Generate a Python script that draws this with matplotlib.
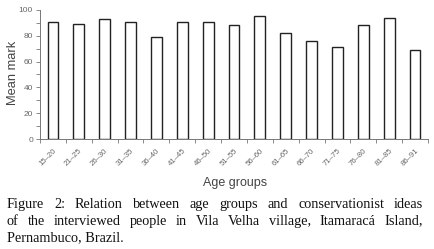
import matplotlib
matplotlib.use('Agg')
import matplotlib.pyplot as plt
import numpy as np

# Data
age_groups = ['15–20', '21–25', '26–30', '31–35', '36–40', '41–45', '46–50', '51–55',
              '56–60', '61–65', '66–70', '71–75', '76–80', '81–85', '86–91']
mean_mark = [91, 89, 93, 91, 79, 91, 91, 88, 95, 82, 76, 71, 88, 94, 69]

caption_lines = [
    'Figure 2: Relation between age groups and conservationist ideas',
    'of the interviewed people in Vila Velha village, Itamaracá Island,',
    'Pernambuco, Brazil.',
]

W, H = 435, 249
fig = plt.figure(figsize=(W / 100, H / 100), dpi=100)
ax = fig.add_axes([40 / W, 1 - 139 / H, 388 / W, 129 / H])

x = np.arange(len(age_groups))
ax.bar(x, mean_mark, width=0.42, facecolor='white', edgecolor='#222222', linewidth=1.0)

ax.set_xlim(-0.5, len(age_groups) - 0.5)
ax.set_ylim(0, 100)
ax.set_yticks(np.arange(0, 101, 20))
ax.set_yticks(np.arange(0, 101, 10), minor=True)
ax.set_xticks(np.arange(-0.5, len(age_groups), 1.0), minor=True)
ax.set_xticks(x)
ax.set_xticklabels(age_groups, rotation=45, ha='right', rotation_mode='anchor')
ax.tick_params(axis='x', which='major', length=0, pad=6, labelsize=5.6, labelcolor='#666666')
ax.tick_params(axis='x', which='minor', length=3, color='#777777', width=0.6)
ax.tick_params(axis='y', which='both', length=3, color='#777777', width=0.6,
               labelsize=6, labelcolor='#666666', pad=2)
for t in ax.get_xticklabels() + ax.get_yticklabels():
    t.set_family('Liberation Sans')

for s in ['top', 'right']:
    ax.spines[s].set_visible(False)
for s in ['left', 'bottom']:
    ax.spines[s].set_color('#777777')
    ax.spines[s].set_linewidth(0.7)

fig.text(13 / W, 1 - 73 / H, 'Mean mark', rotation=90, ha='center', va='center',
         family='Liberation Sans', fontsize=9.3, color='#444444')
fig.text(235 / W, 1 - 183 / H, 'Age groups', ha='center', va='center',
         family='Liberation Sans', fontsize=9, color='#444444')

# Justified caption
left_px, right_px = 7, 423
baselines = [208, 224.5, 241]
cap_kw = dict(family='Liberation Serif', fontsize=10.3, color='#111111', va='baseline')
renderer = fig.canvas.get_renderer()
for i, (line, yb) in enumerate(zip(caption_lines, baselines)):
    y = 1 - yb / H
    words = line.split(' ')
    if i == len(caption_lines) - 1:
        fig.text(left_px / W, y, line, ha='left', **cap_kw)
        continue
    arts = [fig.text(0, y, w_, ha='left', **cap_kw) for w_ in words]
    widths = [a.get_window_extent(renderer).width for a in arts]
    gap = (right_px - left_px - sum(widths)) / (len(words) - 1)
    pos = left_px
    for a, wd in zip(arts, widths):
        a.set_x(pos / W)
        pos += wd + gap

fig.savefig('out.png', dpi=100)
